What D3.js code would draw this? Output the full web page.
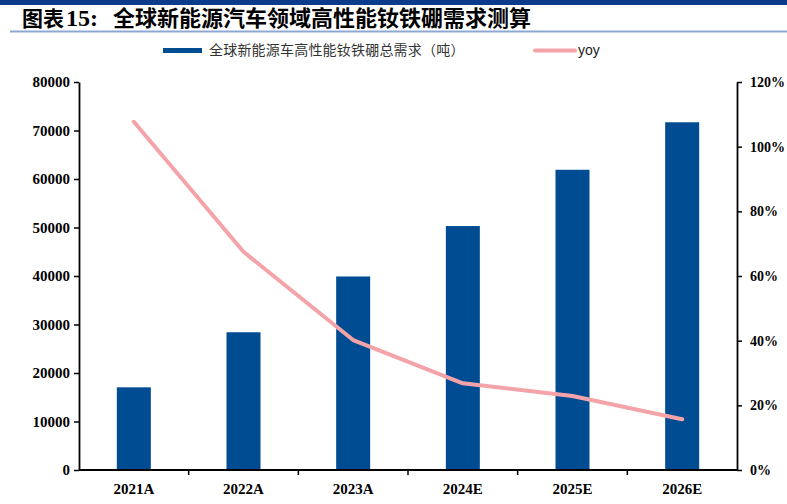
<!DOCTYPE html>
<html><head><meta charset="utf-8">
<script src="https://cdn.jsdelivr.net/npm/d3@7"></script>
<style>
html,body{margin:0;padding:0;background:#fff;}
svg{display:block;}
</style></head>
<body>
<svg id="c" width="787" height="504"></svg>
<script>
const categories = ["2021A","2022A","2023A","2024E","2025E","2026E"];
const demand = [17050, 28400, 39900, 50300, 61900, 71700];
const yoy = [1.077, 0.675, 0.402, 0.268, 0.229, 0.157];
const leftTicks = [0,10000,20000,30000,40000,50000,60000,70000,80000];
const rightTicks = [0,0.2,0.4,0.6,0.8,1.0,1.2];
const titleCN = "全球新能源汽车领域高性能钕铁硼需求测算";
const seriesNames = ["全球新能源车高性能钕铁硼总需求（吨）","yoy"];

const svg = d3.select("#c");
const W=787,H=504;
const m = {left:79, right:737, top:82, bottom:470};
const barColor = "#004C93", lineColor = "#F4A4A9";
const numFont = "'Liberation Serif','Times New Roman',serif";
const cjkFont = "'Noto Sans CJK SC','Noto Sans',sans-serif";

// header
svg.append("rect").attr("x",0).attr("y",0).attr("width",W).attr("height",5).attr("fill","#0B3C8C");
const title = svg.append("g").attr("font-weight","bold").attr("fill","#000");
title.append("text").attr("x",22).attr("y",26).attr("font-family",cjkFont).attr("font-size",21).text("图表");
title.append("text").attr("x",66).attr("y",26).attr("font-family",numFont).attr("font-size",24).text("15:");
title.append("text").attr("x",113).attr("y",26).attr("font-family",cjkFont).attr("font-size",22).text(titleCN);
svg.append("line").attr("x1",10).attr("x2",W).attr("y1",31.5).attr("y2",31.5).attr("stroke","#8DA7D4").attr("stroke-width",2);

// legend
svg.append("rect").attr("x",163).attr("y",48).attr("width",39).attr("height",5).attr("fill",barColor);
svg.append("text").attr("x",209).attr("y",55).attr("font-family",cjkFont).attr("font-size",14).attr("letter-spacing",0.2).attr("fill","#333").text(seriesNames[0]);
svg.append("line").attr("x1",535).attr("x2",575).attr("y1",50.5).attr("y2",50.5).attr("stroke",lineColor).attr("stroke-width",4).attr("stroke-linecap","round");
svg.append("text").attr("x",578).attr("y",55).attr("font-family","'Liberation Sans',Arial,sans-serif").attr("font-size",14).attr("fill","#222").text(seriesNames[1]);

// scales
const x = d3.scaleBand().domain(categories).range([m.left,m.right]).paddingInner(0).paddingOuter(0);
const yL = d3.scaleLinear().domain([0,80000]).range([m.bottom,m.top]);
const yR = d3.scaleLinear().domain([0,1.2]).range([m.bottom,m.top]);
const bw = x.bandwidth()*0.31;

// bars
svg.append("g").selectAll("rect").data(demand).join("rect")
  .attr("x",(d,i)=>x(categories[i])+x.bandwidth()/2-bw/2)
  .attr("y",d=>yL(d)).attr("width",bw).attr("height",d=>yL(0)-yL(d))
  .attr("fill",barColor);

// line
const line = d3.line().x((d,i)=>x(categories[i])+x.bandwidth()/2).y(d=>yR(d));
svg.append("path").datum(yoy).attr("d",line).attr("fill","none")
  .attr("stroke",lineColor).attr("stroke-width",4).attr("stroke-linecap","round").attr("stroke-linejoin","round");

// axes
const gl = svg.append("g").attr("transform",`translate(${m.left},0)`)
  .call(d3.axisLeft(yL).tickValues(leftTicks).tickSize(5).tickSizeOuter(0).tickPadding(4).tickFormat(d3.format("d")));
const gr = svg.append("g").attr("transform",`translate(${m.right},0)`)
  .call(d3.axisRight(yR).tickValues(rightTicks).tickSize(5).tickSizeOuter(0).tickPadding(8).tickFormat(d3.format(".0%")));
const gb = svg.append("g").attr("transform",`translate(0,${m.bottom})`)
  .call(d3.axisBottom(x).tickSize(0).tickPadding(13));
// boundary ticks on x axis
const bounds = categories.slice(1).map(c=>x(c));
gb.selectAll(".bt").data(bounds).join("line").attr("class","bt")
  .attr("x1",d=>d).attr("x2",d=>d).attr("y1",0).attr("y2",5).attr("stroke","#000").attr("stroke-width",1.5);

[gl,gr,gb].forEach(g=>{
  g.selectAll(".domain").attr("stroke","#000").attr("stroke-width",1.8);
  g.selectAll(".tick line").attr("stroke","#000").attr("stroke-width",1.5);
  g.selectAll("text").attr("font-family",numFont).attr("font-weight","bold").attr("font-size",15).attr("fill","#000");
});
gr.selectAll("text").attr("font-size",14);
gb.select(".domain").attr("d",`M${m.left},0H${m.right}`);
</script>
</body></html>
